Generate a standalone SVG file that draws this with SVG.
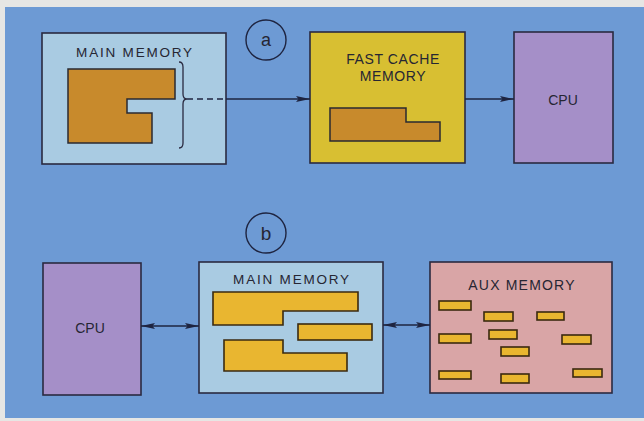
<svg xmlns="http://www.w3.org/2000/svg" width="644" height="421" viewBox="0 0 644 421">
<style>
  .box{stroke:#2a2a40;stroke-width:1.6}
  .lb{fill:#a9cbe2}
  .cpu{fill:#a58fc8}
  .cache{fill:#d8bf32}
  .aux{fill:#d9a5a6}
  .brown{fill:#c88a2c;stroke:#2a2a30;stroke-width:1.5}
  .yel{fill:#e9b630;stroke:#3a2a10;stroke-width:1.6}
  .t{font-family:"Liberation Sans",Arial,sans-serif;fill:#262633;text-anchor:middle}
  .conn{stroke:#1e2440;stroke-width:1.6;fill:none}
  .circ{fill:none;stroke:#1e2440;stroke-width:1.4}
</style>
<defs>
  <marker id="ah" viewBox="0 0 14 7" refX="14" refY="3.5" markerWidth="14" markerHeight="7" markerUnits="userSpaceOnUse" orient="auto-start-reverse">
    <path d="M0,0.5 L14,3.5 L0,6.5 L2.5,3.5 Z" fill="#1e2440"/>
  </marker>
</defs>
<rect x="0" y="0" width="644" height="421" fill="#e6e6e4"/>
<rect x="5" y="7" width="639" height="411" fill="#6d9ad4"/>

<g id="label-a">
  <circle class="circ" cx="266" cy="40" r="20"/>
  <text class="t" x="266" y="46" font-size="18">a</text>
</g>
<g id="main-memory-a">
  <rect class="box lb" x="42" y="33" width="184" height="131"/>
  <text class="t" x="135" y="57" font-size="13.5" letter-spacing="1.8">MAIN MEMORY</text>
  <path class="brown" d="M68,69 H175 V99 H127 V113 H152 V143 H68 Z"/>
  <path d="M179,62 Q183,62 183,67 V94 Q183,99 187,99 Q183,99 183,104 V143 Q183,148 179,148" fill="none" stroke="#2a2a40" stroke-width="1.3"/>
</g>
<g id="cache-a">
  <rect class="box cache" x="310" y="32" width="155" height="131"/>
  <text class="t" x="393" y="64" font-size="14" letter-spacing="0.6">FAST CACHE</text>
  <text class="t" x="393" y="81" font-size="14" letter-spacing="0.6">MEMORY</text>
  <path class="brown" d="M330,108 H406 V122 H440 V141 H330 Z"/>
</g>
<g id="cpu-a">
  <rect class="box cpu" x="514" y="32" width="99" height="131"/>
  <text class="t" x="563" y="105" font-size="14">CPU</text>
</g>

<g id="label-b">
  <circle class="circ" cx="266" cy="233" r="20"/>
  <text class="t" x="266" y="240" font-size="19">b</text>
</g>
<g id="cpu-b">
  <rect class="box cpu" x="43" y="263" width="98" height="132"/>
  <text class="t" x="90" y="333" font-size="14">CPU</text>
</g>
<g id="main-memory-b">
  <rect class="box lb" x="199" y="262" width="184" height="131"/>
  <text class="t" x="292" y="284" font-size="13.5" letter-spacing="1.8">MAIN MEMORY</text>
  <path class="yel" d="M213,292 H358 V311 H283 V325 H213 Z"/>
  <rect class="yel" x="298" y="324" width="74" height="16"/>
  <path class="yel" d="M224,340 H283 V353 H347 V371 H224 Z"/>
</g>
<g id="aux-memory-b">
  <rect class="box aux" x="430" y="262" width="182" height="131"/>
  <text class="t" x="522" y="290" font-size="14" letter-spacing="1.2">AUX MEMORY</text>
  <rect class="yel" x="439" y="301" width="32" height="9"/>
  <rect class="yel" x="484" y="312" width="29" height="9"/>
  <rect class="yel" x="537" y="312" width="27" height="8"/>
  <rect class="yel" x="439" y="334" width="32" height="9"/>
  <rect class="yel" x="489" y="330" width="28" height="9"/>
  <rect class="yel" x="562" y="335" width="29" height="9"/>
  <rect class="yel" x="501" y="347" width="28" height="9"/>
  <rect class="yel" x="439" y="371" width="32" height="8"/>
  <rect class="yel" x="501" y="374" width="28" height="9"/>
  <rect class="yel" x="573" y="369" width="29" height="8"/>
</g>

<g id="connectors">
  <line class="conn" x1="187" y1="99" x2="226" y2="99" stroke-dasharray="6,4"/>
  <line class="conn" x1="226" y1="99" x2="310" y2="99" marker-end="url(#ah)"/>
  <line class="conn" x1="465" y1="99" x2="514" y2="99" marker-end="url(#ah)"/>
  <line class="conn" x1="141" y1="326" x2="199" y2="326" marker-start="url(#ah)" marker-end="url(#ah)"/>
  <line class="conn" x1="383" y1="325" x2="430" y2="325" marker-start="url(#ah)" marker-end="url(#ah)"/>
</g>
</svg>
